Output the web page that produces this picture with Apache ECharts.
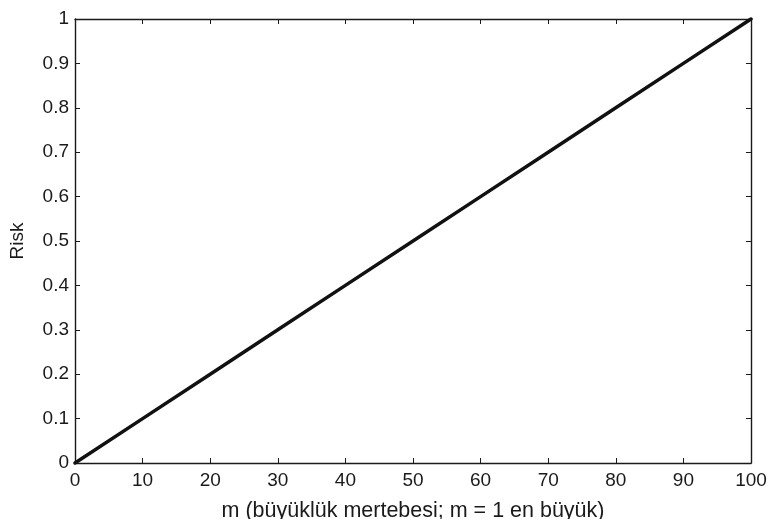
<!DOCTYPE html>
<html>
<head>
<meta charset="utf-8">
<script src="https://cdn.jsdelivr.net/npm/echarts@6/dist/echarts.min.js"></script>
<style>
  html, body { margin: 0; padding: 0; background: #fff; }
  #chart { width: 768px; height: 519px; }
</style>
</head>
<body>
<div id="chart"></div>
<script>
// Magnitude rank m (1 = largest) and the associated risk
const mValues = [0, 10, 20, 30, 40, 50, 60, 70, 80, 90, 100];
const riskValues = [0, 0.1, 0.2, 0.3, 0.4, 0.5, 0.6, 0.7, 0.8, 0.9, 1];

const xTitle = 'm (büyüklük mertebesi; m = 1 en büyük)';
const yTitle = 'Risk';

const FONT = 'Liberation Sans, Arial, Helvetica, sans-serif';
const AXIS_COLOR = '#1a1a1a';

const chart = echarts.init(document.getElementById('chart'), null, { renderer: 'canvas' });

// Boxed axes with inward ticks on all four sides
function boxAxis(extra) {
  return Object.assign({
    type: 'value',
    axisLine: { show: true, onZero: false, lineStyle: { color: AXIS_COLOR, width: 1.4 } },
    axisTick: { show: true, inside: true, length: 5, lineStyle: { color: AXIS_COLOR, width: 1 } },
    splitLine: { show: false }
  }, extra);
}

chart.setOption({
  animation: false,
  backgroundColor: '#ffffff',
  grid: {
    left: 75, right: 17, top: 19, bottom: 56,
    containLabel: false,
    outerBoundsMode: 'none'
  },
  xAxis: [
    boxAxis({
      position: 'bottom', min: 0, max: 100, interval: 10,
      name: xTitle, nameLocation: 'middle', nameGap: 37,
      nameTextStyle: { color: '#1a1a1a', fontFamily: FONT, fontSize: 21.5 },
      axisLabel: { color: '#1a1a1a', fontFamily: FONT, fontSize: 19, margin: 8 }
    }),
    boxAxis({
      position: 'top', min: 0, max: 100, interval: 10,
      axisLabel: { show: false }
    })
  ],
  yAxis: [
    boxAxis({
      position: 'left', min: 0, max: 1, interval: 0.1,
      name: yTitle, nameLocation: 'middle', nameGap: 48,
      nameTextStyle: { color: '#1a1a1a', fontFamily: FONT, fontSize: 19 },
      axisLabel: { color: '#1a1a1a', fontFamily: FONT, fontSize: 19, margin: 6 }
    }),
    boxAxis({
      position: 'right', min: 0, max: 1, interval: 0.1,
      axisLabel: { show: false }
    })
  ],
  series: [{
    type: 'line',
    xAxisIndex: 0,
    yAxisIndex: 0,
    data: mValues.map((m, i) => [m, riskValues[i]]),
    showSymbol: false,
    clip: false,
    lineStyle: { color: '#111111', width: 3.5, cap: 'round' }
  }]
});
</script>
</body>
</html>
